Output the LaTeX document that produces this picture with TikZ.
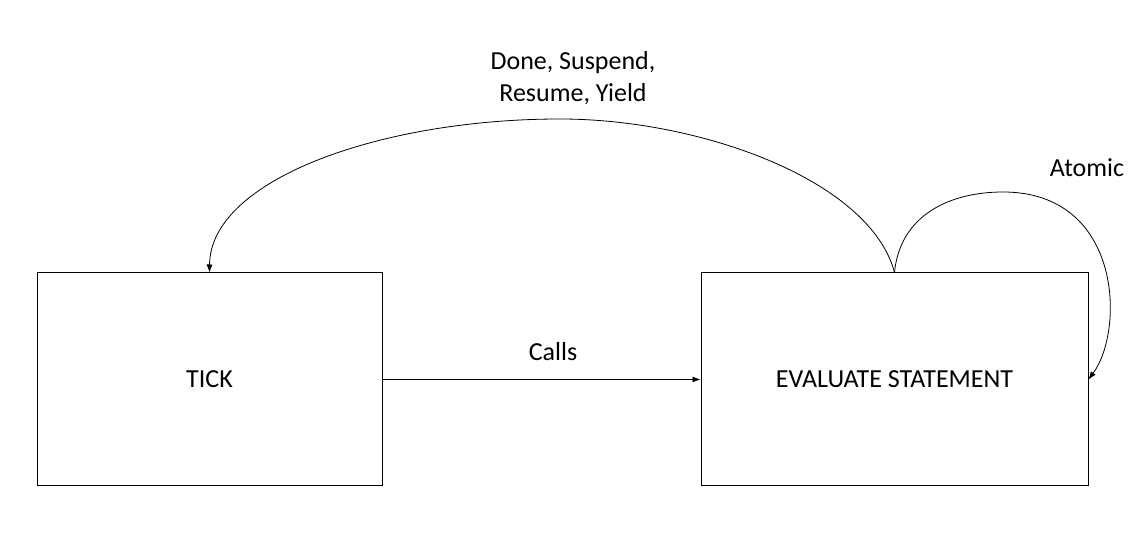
\documentclass[tikz,border=0pt]{standalone}
\usepackage{fontspec}
\setmainfont{Carlito}
\usetikzlibrary{arrows.meta}
\begin{document}
\begin{tikzpicture}[x=1pt,y=-1pt,
  box/.style={draw=black,line width=1pt,minimum width=345pt,minimum height=213pt,inner sep=0pt,font=\fontsize{26}{32}\selectfont},
  lbl/.style={font=\fontsize{26}{32}\selectfont,align=center,inner sep=0pt},
  conn/.style={draw=black,line width=0.8pt,-{Latex[length=8pt,width=6pt]}}]
\useasboundingbox[fill=white] (0,0) rectangle (1144,534);
\node[box] (tick) at (209.5,379.5) {TICK};
\node[box,minimum width=387pt] (eval) at (894.5,379.5) {EVALUATE STATEMENT};
\node[lbl] (calls) at (553,352) {Calls};
\node[lbl] (ret) at (573,78) {Done, Suspend,\\Resume, Yield};
\node[lbl] (atomic) at (1087,168) {Atomic};
\draw[conn] (tick.east) -- (eval.west);
\draw[conn] (eval.north) .. controls (870,180) and (700,119) .. (560,119)
  .. controls (380,119) and (210,180) .. (tick.north);
\draw[conn] (eval.north) .. controls (900,215) and (950,192) .. (1003,192)
  .. controls (1122,192) and (1125,330) .. (eval.east);
\end{tikzpicture}
\end{document}
